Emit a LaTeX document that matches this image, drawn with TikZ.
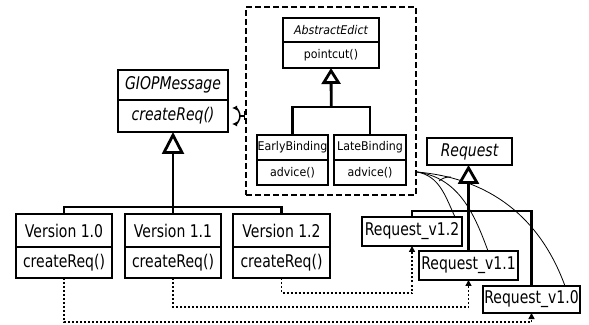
\documentclass[tikz,border=0pt]{standalone}
\usepackage{fontspec}
\setmainfont{DejaVu Sans}
\newfontfamily\umlfont[FakeStretch=0.8]{DejaVu Sans}
\newfontfamily\aspfont[FakeStretch=0.92]{DejaVu Sans}
\usetikzlibrary{positioning,arrows.meta,calc}
\tikzstyle{cls} = [draw,line width=2.8pt,inner sep=0pt,outer sep=0pt,font=\umlfont\fontsize{17.5}{19}\selectfont]
\tikzstyle{aspcls} = [cls,line width=2pt,font=\aspfont\fontsize{12}{14}\selectfont]
\tikzstyle{tree} = [line width=2.8pt]
\tikzstyle{inherit} = [tree,-{Triangle[open,length=19pt,width=21pt]}]
\tikzstyle{realize} = [line width=1.6pt,dash pattern=on 2pt off 2pt,-{Triangle[length=6pt,width=6pt]}]
\tikzstyle{crosscut} = [line width=.8pt]
\begin{document}
\begin{tikzpicture}[x=1pt,y=1pt]
  \useasboundingbox (0,0) rectangle (589,324);
  % aspect
  \node[draw,line width=2pt,dash pattern=on 6pt off 3pt,minimum width=170pt,minimum height=188pt] (aspect) at (331,223) {};
  \node[aspcls,minimum width=96pt,minimum height=24pt,font=\aspfont\fontsize{12}{14}\selectfont\itshape] (abs) at (331,294) {AbstractEdict};
  \node[aspcls,minimum width=96pt,minimum height=26pt,below=0pt of abs] (absm) {pointcut()};
  \node[aspcls,minimum width=71pt,minimum height=25pt] (early) at (292.5,176.5) {EarlyBinding};
  \node[aspcls,minimum width=71pt,minimum height=25pt,below=0pt of early] (earlym) {advice()};
  \node[aspcls,minimum width=72pt,minimum height=25pt] (late) at (370,176.5) {LateBinding};
  \node[aspcls,minimum width=72pt,minimum height=25pt,below=0pt of late] (latem) {advice()};
  \draw[tree](early.north)--++(0,28)-|(late.north);
  \draw[inherit,-{Triangle[open,length=16pt,width=19pt]}]($(early.north)!.5!(late.north)+(0,28)$)--(absm.south);
  % messages
  \node[cls,minimum width=110pt,minimum height=30pt,font=\umlfont\fontsize{17.5}{19}\selectfont\itshape] (giop) at (173,239) {GIOPMessage};
  \node[cls,minimum width=110pt,minimum height=32pt,font=\umlfont\fontsize{17.5}{19}\selectfont\itshape,below=0pt of giop] (giopm) {createReq()};
  \node[cls,minimum width=96pt,minimum height=33pt] (v10) at (64,93.5) {Version 1.0};
  \node[cls,minimum width=96pt,minimum height=31pt,below=0pt of v10] (v10m) {createReq()};
  \node[cls,minimum width=96pt,minimum height=33pt] (v11) at (173,93.5) {Version 1.1};
  \node[cls,minimum width=96pt,minimum height=31pt,below=0pt of v11] (v11m) {createReq()};
  \node[cls,minimum width=97pt,minimum height=33pt] (v12) at (281.5,93.5) {Version 1.2};
  \node[cls,minimum width=97pt,minimum height=31pt,below=0pt of v12] (v12m) {createReq()};
  \draw[tree](v10.north)--++(0,7)-|(v12.north);
  \draw[inherit,-{Triangle[open,length=22pt,width=22pt]}](v11.north)--(giopm.south);
  % requests
  \node[cls,minimum width=85pt,minimum height=27pt,font=\umlfont\fontsize{17.5}{19}\selectfont\itshape] (req) at (469.5,172.5) {Request};
  \node[cls,minimum width=100pt,minimum height=29pt] (rv12) at (412,92.5) {Request\_v1.2};
  \node[cls,minimum width=99pt,minimum height=29pt] (rv11) at (468.5,58.5) {Request\_v1.1};
  \node[cls,minimum width=97pt,minimum height=27pt] (rv10) at (531.5,24.5) {Request\_v1.0};
  \draw[tree](rv12.north)--++(0,6)-|(rv10.north);
  \draw[inherit](rv11.north)--(rv11.north|-req.south);
  \draw[realize](v12m.south)--++(0,-15)-|(rv12.south);
  \draw[realize](v11m.south)--++(0,-29)-|(rv11.south);
  \draw[realize](v10m.south)--++(0,-44)-|(rv10.south);
  % weaving
  \draw[line width=1.5pt,{Latex[length=5pt,width=5pt]}-{Latex[length=5pt,width=5pt]}]($(giopm.east)+(4,8)$)arc[start angle=90,end angle=-90,radius=8];
  \draw[line width=1.5pt,-Bar]($(giopm.east)+(12,0)$)--(aspect.west|-giopm.east);
  \coordinate (cut) at (aspect.east|-0,152);
  \draw[crosscut](cut)to[out=-10,in=115]($(rv12.north east)+(-7,0)$);
  \draw[crosscut](cut)to[out=-8,in=110]($(rv11.north)+(19.5,0)$);
  \draw[crosscut](cut)to[out=-5,in=110]($(rv10.north east)+(-15,0)$);
  \draw[crosscut]($(cut)+(22,-9)$)to[bend left=20]($(cut)+(34,-5)$);
\end{tikzpicture}
\end{document}
